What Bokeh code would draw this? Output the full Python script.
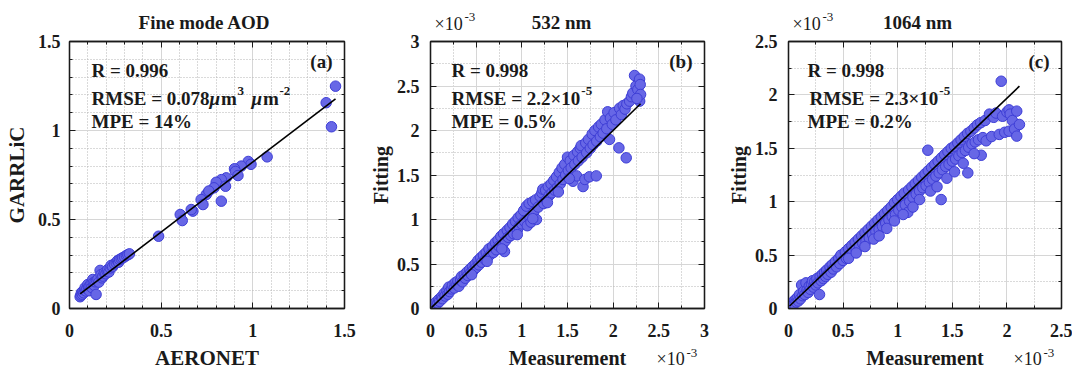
import numpy as np
from bokeh.plotting import figure
from bokeh.models import (Label, LinearAxis, Range1d, SingleIntervalTicker,
                          NumeralTickFormatter, ColumnDataSource)
from bokeh.layouts import row, column
from bokeh.embed import file_html
from bokeh.resources import INLINE

# ---------------- data ----------------
# Panel (a): fine mode AOD, AERONET (x) vs GARRLiC (y)
pts_fine = [
    (1.451, 1.249), (1.400, 1.156), (1.429, 1.021), (1.078, 0.852), (0.975, 0.826),
    (0.990, 0.810), (0.937, 0.800), (0.900, 0.785), (0.905, 0.770), (0.919, 0.747),
    (0.855, 0.734), (0.828, 0.724), (0.800, 0.709), (0.851, 0.687), (0.788, 0.678),
    (0.828, 0.603), (0.746, 0.640), (0.760, 0.660), (0.718, 0.612), (0.728, 0.584),
    (0.673, 0.547), (0.664, 0.556), (0.604, 0.528), (0.615, 0.494), (0.486, 0.406),
    (0.058, 0.066), (0.062, 0.075), (0.065, 0.089), (0.070, 0.080), (0.072, 0.095),
    (0.078, 0.088), (0.082, 0.105), (0.085, 0.117), (0.090, 0.098), (0.095, 0.112),
    (0.100, 0.135), (0.104, 0.120), (0.108, 0.100), (0.112, 0.128), (0.118, 0.140),
    (0.122, 0.118), (0.127, 0.163), (0.130, 0.145), (0.135, 0.130), (0.140, 0.150),
    (0.145, 0.079), (0.148, 0.158), (0.155, 0.165), (0.160, 0.148), (0.167, 0.214),
    (0.172, 0.190), (0.178, 0.172), (0.182, 0.182), (0.190, 0.200), (0.198, 0.195),
    (0.205, 0.210), (0.209, 0.219), (0.215, 0.205), (0.222, 0.228), (0.227, 0.242),
    (0.235, 0.235), (0.245, 0.250), (0.255, 0.257), (0.262, 0.268), (0.268, 0.260),
    (0.273, 0.275), (0.282, 0.280), (0.290, 0.285), (0.300, 0.290), (0.310, 0.298),
    (0.318, 0.302), (0.327, 0.307),
]
# Panel (b): 532 nm, Measurement vs Fitting, in units of 1e-3
pts_532 = [
    (0.01, 0.01), (0.02, 0.03), (0.03, 0.02), (0.04, 0.05), (0.05, 0.04), (0.06, 0.07),
    (0.08, 0.06), (0.09, 0.10), (0.10, 0.08), (0.12, 0.13), (0.13, 0.11), (0.15, 0.17),
    (0.16, 0.14), (0.18, 0.20), (0.19, 0.16), (0.20, 0.24), (0.21, 0.19), (0.23, 0.22),
    (0.24, 0.26), (0.26, 0.23), (0.27, 0.29), (0.29, 0.27), (0.30, 0.31), (0.31, 0.25),
    (0.33, 0.32), (0.34, 0.36), (0.35, 0.30), (0.37, 0.38), (0.38, 0.34), (0.40, 0.41),
    (0.41, 0.37), (0.43, 0.44), (0.44, 0.40), (0.46, 0.47), (0.47, 0.43), (0.49, 0.50),
    (0.50, 0.46), (0.52, 0.54), (0.53, 0.49), (0.55, 0.57), (0.56, 0.52), (0.58, 0.60),
    (0.60, 0.55), (0.61, 0.63), (0.63, 0.58), (0.64, 0.67), (0.66, 0.61), (0.68, 0.70),
    (0.69, 0.63), (0.71, 0.74), (0.72, 0.66), (0.74, 0.77), (0.75, 0.70), (0.77, 0.81),
    (0.79, 0.72), (0.80, 0.84), (0.81, 0.64), (0.82, 0.76), (0.84, 0.88), (0.85, 0.80),
    (0.87, 0.91), (0.88, 0.82), (0.90, 0.95), (0.91, 0.84), (0.93, 0.98), (0.95, 0.88),
    (0.96, 1.02), (0.97, 0.92), (0.99, 1.05), (1.00, 0.95), (1.02, 1.10), (1.03, 0.98),
    (1.05, 1.15), (1.06, 0.93), (1.08, 1.18), (1.09, 1.02), (1.10, 0.97), (1.12, 1.20),
    (1.13, 1.08), (1.15, 1.22), (1.16, 1.00), (1.18, 1.14), (1.20, 1.26), (1.22, 1.30),
    (1.23, 1.34), (1.24, 1.18), (1.26, 1.33), (1.27, 1.22), (1.29, 1.37), (1.30, 1.27),
    (1.32, 1.40), (1.33, 1.30), (1.35, 1.44), (1.36, 1.33), (1.38, 1.48), (1.39, 1.36),
    (1.41, 1.53), (1.42, 1.40), (1.44, 1.58), (1.45, 1.45), (1.47, 1.62), (1.48, 1.50),
    (1.50, 1.70), (1.51, 1.55), (1.53, 1.66), (1.54, 1.58), (1.56, 1.43), (1.57, 1.72),
    (1.58, 1.62), (1.60, 1.49), (1.61, 1.76), (1.62, 1.66), (1.64, 1.80), (1.65, 1.83),
    (1.66, 1.70), (1.67, 1.37), (1.69, 1.45), (1.70, 1.86), (1.71, 1.75), (1.73, 1.90),
    (1.74, 1.48), (1.75, 1.80), (1.77, 1.96), (1.78, 1.84), (1.80, 2.00), (1.815, 1.49),
    (1.82, 1.88), (1.84, 2.04), (1.86, 1.93), (1.87, 2.07), (1.89, 1.97), (1.91, 2.12),
    (1.93, 2.02), (1.94, 2.21), (1.96, 1.90), (1.97, 2.14), (1.99, 2.07), (2.01, 2.20),
    (2.03, 2.12), (2.063, 1.805), (2.07, 2.25), (2.09, 2.18), (2.11, 2.28), (2.13, 2.24),
    (2.143, 1.693), (2.15, 2.30), (2.18, 2.33), (2.20, 2.38), (2.215, 2.42), (2.234, 2.618),
    (2.25, 2.50), (2.27, 2.46), (2.289, 2.577), (2.296, 2.516), (2.29, 2.33), (2.30, 2.405),
    (2.26, 2.36), (0.45, 0.38), (0.62, 0.53), (0.78, 0.67), (0.95, 0.83), (1.12, 1.01),
    (1.28, 1.19), (1.40, 1.31), (1.52, 1.46),
]
# Panel (c): 1064 nm, Measurement vs Fitting, in units of 1e-3
pts_1064 = [
    (0.01, 0.01), (0.02, 0.03), (0.03, 0.02), (0.04, 0.06), (0.05, 0.04), (0.06, 0.08),
    (0.07, 0.06), (0.08, 0.10), (0.09, 0.07), (0.10, 0.13), (0.11, 0.09), (0.12, 0.22),
    (0.13, 0.12), (0.14, 0.16), (0.15, 0.13), (0.16, 0.24), (0.17, 0.17), (0.18, 0.15),
    (0.19, 0.21), (0.20, 0.18), (0.21, 0.23), (0.22, 0.26), (0.23, 0.20), (0.24, 0.25),
    (0.25, 0.22), (0.26, 0.28), (0.27, 0.24), (0.284, 0.131), (0.29, 0.30), (0.30, 0.26),
    (0.31, 0.32), (0.32, 0.28), (0.33, 0.34), (0.34, 0.30), (0.35, 0.36), (0.36, 0.32),
    (0.38, 0.39), (0.39, 0.34), (0.40, 0.41), (0.41, 0.37), (0.43, 0.44), (0.44, 0.39),
    (0.46, 0.47), (0.47, 0.42), (0.48, 0.50), (0.50, 0.45), (0.52, 0.53), (0.53, 0.47),
    (0.55, 0.56), (0.56, 0.50), (0.58, 0.59), (0.59, 0.53), (0.61, 0.62), (0.62, 0.55),
    (0.64, 0.65), (0.65, 0.58), (0.67, 0.68), (0.68, 0.61), (0.70, 0.71), (0.71, 0.63),
    (0.73, 0.74), (0.74, 0.66), (0.76, 0.77), (0.77, 0.69), (0.79, 0.80), (0.80, 0.72),
    (0.82, 0.83), (0.83, 0.74), (0.85, 0.86), (0.86, 0.77), (0.88, 0.89), (0.89, 0.80),
    (0.91, 0.92), (0.92, 0.83), (0.94, 0.95), (0.95, 0.86), (0.97, 0.99), (0.98, 0.88),
    (1.00, 1.02), (1.01, 0.92), (1.03, 1.05), (1.04, 0.95), (1.06, 1.08), (1.07, 0.97),
    (1.093, 0.90), (1.10, 1.11), (1.11, 1.00), (1.13, 1.14), (1.14, 1.04), (1.16, 1.17),
    (1.17, 1.07), (1.19, 1.20), (1.20, 1.10), (1.22, 1.23), (1.23, 1.13), (1.25, 1.26),
    (1.26, 1.15), (1.276, 1.482), (1.28, 1.29), (1.29, 1.18), (1.31, 1.32), (1.32, 1.21),
    (1.34, 1.35), (1.35, 1.24), (1.37, 1.38), (1.38, 1.27), (1.398, 1.02), (1.40, 1.41),
    (1.41, 1.30), (1.43, 1.44), (1.44, 1.33), (1.46, 1.47), (1.47, 1.35), (1.49, 1.50),
    (1.50, 1.38), (1.52, 1.52), (1.53, 1.40), (1.55, 1.55), (1.56, 1.43), (1.58, 1.58),
    (1.59, 1.46), (1.61, 1.61), (1.62, 1.48), (1.642, 1.27), (1.64, 1.64), (1.65, 1.51),
    (1.67, 1.66), (1.68, 1.54), (1.70, 1.69), (1.71, 1.56), (1.73, 1.72), (1.74, 1.58),
    (1.765, 1.435), (1.76, 1.74), (1.78, 1.60), (1.80, 1.76), (1.81, 1.57), (1.84, 1.82),
    (1.86, 1.61), (1.88, 1.79), (1.90, 1.83), (1.93, 1.63), (1.948, 2.128), (1.96, 1.80),
    (1.98, 1.65), (2.00, 1.84), (2.02, 1.86), (2.02, 1.66), (2.03, 1.82), (2.05, 1.76),
    (2.07, 1.68), (2.09, 1.848), (2.09, 1.614), (2.115, 1.723),
    (0.55, 0.47), (0.62, 0.52), (0.70, 0.58), (0.78, 0.65), (0.83, 0.68), (0.90, 0.75),
    (0.97, 0.82), (1.05, 0.88), (1.14, 0.95), (1.20, 1.02), (1.30, 1.10), (1.36, 1.14),
    (1.45, 1.22), (1.52, 1.28), (1.60, 1.36), (1.70, 1.45),
]
# fitted lines (slope, intercept)
fit_fine = (0.787, 0.036)
fit_532 = (1.0, 0.0)
fit_1064 = (0.978, 0.0135)

titles = ["Fine mode AOD", "532 nm", "1064 nm"]
xlabels = ["AERONET", "Measurement", "Measurement"]
ylabels = ["GARRLiC", "Fitting", "Fitting"]
panel_tags = ["(a)", "(b)", "(c)"]
r_texts = ["R = 0.996", "R = 0.998", "R = 0.998"]
mpe_texts = ["MPE = 14%", "MPE = 0.5%", "MPE = 0.2%"]
rmse_a = ["RMSE = 0.078", "\u03bc", "m", "3", "\u03bc", "m", "-2"]
rmse_b = ["RMSE = 2.2\u00d710", "-5"]
rmse_c = ["RMSE = 2.3\u00d710", "-5"]
multiplier = ["\u00d710", "-3"]
axis_max = [1.5, 3.0, 2.5]

# ---------------- styling / layout ----------------
FONT = "Liberation Serif"
FILL = "#6767E6"
EDGE = "#3E3ED6"
INK = "#1a1a1a"
TOP_H = 32          # height of the strip above the panels
BOT_H = 25          # height of the strip below the panels
FRAME_H = 267
PAN_TOP = 9
PAN_BOT = 35
TOTAL_W = 1072
TXT_DY = -5         # correction: rendered text sits lower than its anchor
PIC_FRAME_BOT = 1 + TOP_H + PAN_TOP + FRAME_H
BOT_Y0 = PIC_FRAME_BOT + PAN_BOT      # picture y of bottom strip top

TNR_B = {' ': 250, '=': 570, '.': 250, '%': 1000, 'R': 722, 'M': 944, 'S': 556,
         'E': 667, 'P': 611, '\u00d7': 570, '-': 333}


def text_w(s, size):
    return sum(TNR_B.get(ch, 500) for ch in s) * size / 1000.0


def strip(width, height):
    s = figure(width=width, height=height, x_range=Range1d(0, width),
               y_range=Range1d(height, 0), x_axis_type=None, y_axis_type=None,
               min_border=0, output_backend="svg", toolbar_location=None, title=None)
    s.outline_line_color = None
    s.background_fill_color = "white"
    s.border_fill_color = "white"
    return s


def slab(s, x, y, text, size=19, style="bold", align="left"):
    s.add_layout(Label(x=x, y=y + TXT_DY, text=text, text_font=FONT,
                       text_font_size=f"{size}px", text_font_style=style,
                       text_align=align, text_baseline="alphabetic", text_color=INK))


class Panel:
    def __init__(self, pts, xmax, fit, pic_frame_left, left_border, frame_w, right_border,
                 ystand, nminor, ylabel, ylab_size, ylab_stand):
        self.xmax = xmax
        self.frame_left = pic_frame_left
        self.frame_w = frame_w
        p = figure(frame_width=frame_w, frame_height=FRAME_H,
                   min_border_left=left_border, min_border_right=right_border,
                   min_border_top=PAN_TOP, min_border_bottom=PAN_BOT,
                   x_range=Range1d(0, xmax), y_range=Range1d(0, xmax),
                   output_backend="svg", toolbar_location=None, title=None)
        p.background_fill_color = "white"
        p.border_fill_color = "white"
        p.outline_line_color = INK
        p.outline_line_width = 1.3
        p.add_layout(LinearAxis(), "above")
        p.add_layout(LinearAxis(), "right")
        t = SingleIntervalTicker(interval=0.5, num_minor_ticks=nminor)
        for ax in p.axis:
            ax.ticker = t
            ax.formatter = NumeralTickFormatter(format="0.[0]")
            ax.axis_line_color = INK
            ax.axis_line_width = 1.3
            ax.major_tick_line_color = INK
            ax.minor_tick_line_color = INK
            ax.major_tick_in = 6
            ax.major_tick_out = 0
            ax.minor_tick_in = 3
            ax.minor_tick_out = 0
            ax.major_label_text_font = FONT
            ax.major_label_text_font_style = "bold"
            ax.major_label_text_font_size = "18px"
            ax.major_label_text_color = INK
        for ax in p.above + p.right:
            ax.major_label_text_color = None
            ax.major_label_text_font_size = "0px"
            ax.major_label_standoff = 0
        p.below[0].major_label_standoff = 15
        yax = p.left[0]
        yax.major_label_standoff = ystand
        yax.axis_label = ylabel
        yax.axis_label_text_font = FONT
        yax.axis_label_text_font_style = "bold"
        yax.axis_label_text_font_size = f"{ylab_size}px"
        yax.axis_label_text_color = INK
        yax.axis_label_standoff = ylab_stand
        for g in p.grid:
            g.ticker = t
            g.grid_line_color = "#d6d6d6"
            g.grid_line_width = 1
            g.minor_grid_line_color = "#b4b4b4"
            g.minor_grid_line_dash = "1 2"
            g.minor_grid_line_width = 1
        src = ColumnDataSource(dict(x=[a for a, b in pts], y=[b for a, b in pts]))
        p.scatter("x", "y", source=src, size=10.5, fill_color=FILL, line_color=EDGE,
                  line_width=1)
        xs = [a for a, b in pts]
        lx = [min(xs), max(xs)]
        p.line(lx, [fit[0] * v + fit[1] for v in lx], line_color="black", line_width=1.6)
        self.p = p

    # px, py: picture coordinates
    def dx(self, px):
        return (px - self.frame_left) / self.frame_w * self.xmax

    def dy(self, py):
        return (PIC_FRAME_BOT - py) / FRAME_H * self.xmax

    def lab(self, px, py, text, size=19, style="bold", align="left"):
        self.p.add_layout(Label(x=self.dx(px), y=self.dy(py + TXT_DY), text=text,
                                text_font=FONT, text_font_size=f"{size}px",
                                text_font_style=style, text_align=align,
                                text_baseline="alphabetic", text_color=INK))

    @property
    def fr(self):
        return self.frame_left + self.frame_w

    @property
    def fc(self):
        return self.frame_left + self.frame_w / 2.0


A = Panel(pts_fine, axis_max[0], fit_fine, 70, 69, 275, 12, 9, 5, ylabels[0], 21, 6)
B = Panel(pts_532, axis_max[1], fit_532, 431, 74, 274, 8, 11, 2, ylabels[1], 20, 2)
C = Panel(pts_1064, axis_max[2], fit_1064, 789, 76, 273, 11, 11, 2, ylabels[2], 20, 2)
panels = [A, B, C]

# annotations inside the frames (picture coordinates)
for i, P in enumerate(panels):
    P.lab(P.fr - 12, 67, panel_tags[i], align="right")
    x0 = P.frame_left + (22 if i == 0 else 21 if i == 1 else 19)
    P.lab(x0, 76, r_texts[i])
    P.lab(x0, 127, mpe_texts[i])

x0 = A.frame_left + 22
A.lab(x0, 104, rmse_a[0])
xm = x0 + text_w(rmse_a[0], 19)
A.lab(xm, 104, rmse_a[1], style="bold italic")
A.lab(xm + 11.5, 104, rmse_a[2])
A.lab(xm + 28, 96, rmse_a[3], size=13)
A.lab(xm + 42, 104, rmse_a[4], style="bold italic")
A.lab(xm + 53.5, 104, rmse_a[5])
A.lab(xm + 70, 96, rmse_a[6], size=13)

for P, parts in ((B, rmse_b), (C, rmse_c)):
    x0 = P.frame_left + 21
    P.lab(x0, 104, parts[0])
    P.lab(x0 + text_w(parts[0], 19) + 1, 96, parts[1], size=13)

# ---------------- strips holding titles, x labels and multipliers ----------------
top = strip(TOTAL_W, TOP_H)
bot = strip(TOTAL_W, BOT_H)
title_off = [-2.5, -6, -7.5]
for i, P in enumerate(panels):
    slab(top, P.fc + title_off[i] - 1, 27.5 - 1, titles[i], size=19, align="center")
    slab(bot, P.fc - 1, 363 - BOT_Y0, xlabels[i], size=21 if i == 0 else 20,
         align="center")
for P in (B, C):
    xl = P.frame_left + 4 - 1
    slab(top, xl, 29 - 1, multiplier[0], size=18, style="normal")
    slab(top, xl + 30, 22 - 1, multiplier[1], size=13, style="normal")
    xb = P.fr - 48 - 1
    slab(bot, xb, 364 - BOT_Y0, multiplier[0], size=18, style="normal")
    slab(bot, xb + 30, 358 - BOT_Y0, multiplier[1], size=13, style="normal")

layout = column(top, row(A.p, B.p, C.p), bot)
open("out.html", "w").write(file_html(layout, INLINE))
